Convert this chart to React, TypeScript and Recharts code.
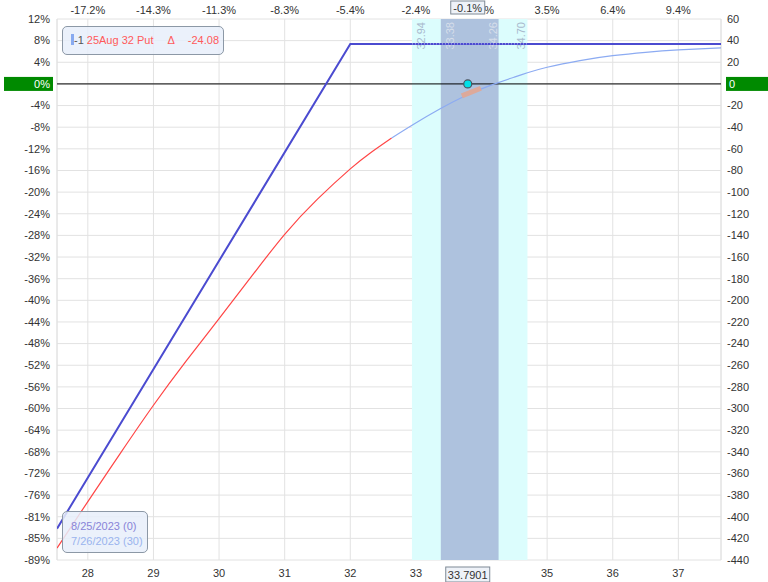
import React from "react";
import {
  ComposedChart,
  Line,
  Scatter,
  XAxis,
  YAxis,
  CartesianGrid,
  ReferenceArea,
  ReferenceLine,
} from "recharts";

// price axis
const X_MIN = 27.53;
const X_MAX = 37.65;
const X_TICKS = [28, 29, 30, 31, 32, 33, 34, 35, 36, 37];
const TOP_LABELS = ["-17.2%", "-14.3%", "-11.3%", "-8.3%", "-5.4%", "-2.4%", "0.5%", "3.5%", "6.4%", "9.4%"];

// P&L axis
const Y_TICKS = [60, 40, 20, 0, -20, -40, -60, -80, -100, -120, -140, -160, -180, -200, -220, -240, -260, -280, -300, -320, -340, -360, -380, -400, -420, -440];
const LEFT_LABELS = ["12%", "8%", "4%", "0%", "-4%", "-8%", "-12%", "-16%", "-20%", "-24%", "-28%", "-32%", "-36%", "-40%", "-44%", "-48%", "-52%", "-56%", "-60%", "-64%", "-68%", "-72%", "-76%", "-81%", "-85%", "-89%"];

// expiration (8/25/2023)
const EXPIRY_PRICE = [27.53, 32, 37.65];
const EXPIRY_PNL = [-411, 37, 37];

// today (7/26/2023), red part
const TODAY_RED_PRICE = [27.53, 28, 28.5, 29, 29.5, 30, 30.5, 31, 31.5, 32, 32.3, 32.63];
const TODAY_RED_PNL = [-429, -386, -341, -297, -256, -217, -177.5, -139, -106.5, -78.5, -64, -50];

// today, light blue part
const TODAY_BLUE_PRICE = [32.63, 32.96, 33.37, 33.79, 34.2, 34.5, 34.7, 35, 35.5, 36, 36.5, 37, 37.65];
const TODAY_BLUE_PNL = [-50, -37.5, -23, -10, 0, 6.3, 10.3, 15.4, 21.6, 26.1, 29.2, 31.4, 33.3];

// delta tangent at current price
const DELTA_PRICE = [33.7, 33.99];
const DELTA_PNL = [-11.1, -4.0];

const CURRENT_PRICE = 33.7901;
const CURRENT_PCT = "-0.1%";
const OUTER_BAND = [32.94, 34.7];
const INNER_BAND = [33.38, 34.26];

const zip = (xs: number[], ys: number[]) => xs.map((x, i) => ({ x, y: ys[i] }));

const FONT = 'Arial, "Liberation Sans", sans-serif';
const FS = 11;

function LeftTick(props: any) {
  const { y, payload } = props;
  const label = LEFT_LABELS[Y_TICKS.indexOf(payload.value)];
  if (payload.value === 0) {
    return (
      <g>
        <rect x={4} y={y - 7} width={49} height={14} fill="#008a00" />
        <text x={50} y={y} dy="0.35em" textAnchor="end" fill="#fff" fontSize={FS} fontFamily={FONT}>
          {label}
        </text>
      </g>
    );
  }
  return (
    <text x={50} y={y} dy="0.35em" textAnchor="end" fill="#333" fontSize={FS} fontFamily={FONT}>
      {label}
    </text>
  );
}

function RightTick(props: any) {
  const { y, payload } = props;
  if (payload.value === 0) {
    return (
      <g>
        <rect x={726} y={y - 7} width={42} height={14} fill="#008a00" />
        <text x={729} y={y} dy="0.35em" fill="#fff" fontSize={FS} fontFamily={FONT}>
          0
        </text>
      </g>
    );
  }
  return (
    <text x={727} y={y} dy="0.35em" fill="#333" fontSize={FS} fontFamily={FONT}>
      {payload.value}
    </text>
  );
}

function BottomTick(props: any) {
  const { x, payload } = props;
  return (
    <text x={x} y={573} dy="0.35em" textAnchor="middle" fill="#333" fontSize={FS} fontFamily={FONT}>
      {payload.value}
    </text>
  );
}

function TopTick(props: any) {
  const { x, payload } = props;
  return (
    <text x={x} y={10} dy="0.35em" textAnchor="middle" fill="#333" fontSize={FS} fontFamily={FONT}>
      {TOP_LABELS[X_TICKS.indexOf(payload.value)]}
    </text>
  );
}

// current price tags, drawn as the tick of an extra axis so they sit on top
function PriceTagTick(props: any) {
  const cx = props.x;
  return (
    <g fontFamily={FONT} fontSize={FS}>
      <rect x={cx - 17} y={1} width={34} height={13} fill="#eef2f8" stroke="#7f8a96" />
      <text x={cx} y={8} dy="0.35em" textAnchor="middle" fill="#333">
        {CURRENT_PCT}
      </text>
      <rect x={cx - 22} y={567} width={44} height={15} fill="#eef2f8" stroke="#7f8a96" />
      <text x={cx} y={575} dy="0.35em" textAnchor="middle" fill="#333">
        {CURRENT_PRICE.toFixed(4)}
      </text>
    </g>
  );
}

// band edge values, written upwards just inside each edge
function BandLabel(props: any) {
  const vb = props.viewBox;
  if (!vb) return null;
  const { band, color } = props;
  const top = vb.y + 3;
  const xs = [vb.x + 9, vb.x + vb.width - 6];
  return (
    <g>
      {xs.map((x, i) => (
        <text
          key={i}
          x={x}
          y={top}
          transform={`rotate(-90 ${x} ${top})`}
          textAnchor="end"
          dominantBaseline="central"
          fill={color}
          fontSize={FS}
          fontFamily={FONT}
        >
          {band[i].toFixed(2)}
        </text>
      ))}
    </g>
  );
}

export default function App() {
  const expiry = zip(EXPIRY_PRICE, EXPIRY_PNL);
  const todayRed = zip(TODAY_RED_PRICE, TODAY_RED_PNL);
  const todayBlue = zip(TODAY_BLUE_PRICE, TODAY_BLUE_PNL);
  const delta = zip(DELTA_PRICE, DELTA_PNL);
  const marker = [{ x: CURRENT_PRICE, y: 0 }];
  const dotted = [
    { x: OUTER_BAND[0], y: EXPIRY_PNL[1] },
    { x: OUTER_BAND[1], y: EXPIRY_PNL[1] },
  ];

  return (
    <div style={{ position: "absolute", left: 0, top: 0, width: 768, height: 582, background: "#fff", fontFamily: FONT }}>
      <ComposedChart width={768} height={582} margin={{ top: 0, right: 0, bottom: 0, left: 0 }}>
        <XAxis
          xAxisId="b"
          type="number"
          dataKey="x"
          domain={[X_MIN, X_MAX]}
          ticks={X_TICKS}
          interval={0}
          allowDataOverflow
          height={21}
          axisLine={false}
          tickLine={false}
          tick={<BottomTick />}
        />
        <XAxis
          xAxisId="t"
          orientation="top"
          type="number"
          dataKey="x"
          domain={[X_MIN, X_MAX]}
          ticks={X_TICKS}
          interval={0}
          allowDataOverflow
          height={19}
          axisLine={false}
          tickLine={false}
          tick={<TopTick />}
        />
        <YAxis
          yAxisId="l"
          type="number"
          domain={[-440, 60]}
          ticks={Y_TICKS}
          interval={0}
          allowDataOverflow
          width={57}
          axisLine={false}
          tickLine={false}
          tick={<LeftTick />}
        />
        <YAxis
          yAxisId="r"
          orientation="right"
          type="number"
          domain={[-440, 60]}
          ticks={Y_TICKS}
          interval={0}
          allowDataOverflow
          width={47}
          axisLine={false}
          tickLine={false}
          tick={<RightTick />}
        />
        <XAxis
          xAxisId="tag"
          type="number"
          dataKey="x"
          domain={[X_MIN, X_MAX]}
          ticks={[CURRENT_PRICE]}
          interval={0}
          allowDataOverflow
          height={1}
          axisLine={false}
          tickLine={false}
          tick={<PriceTagTick />}
        />
        <ReferenceArea
          xAxisId="b"
          yAxisId="l"
          x1={OUTER_BAND[0]}
          x2={OUTER_BAND[1]}
          fill="#dcfdfd"
          fillOpacity={1}
          stroke="none"
          label={<BandLabel band={OUTER_BAND} color="#a9b9cd" />}
        />
        <ReferenceArea
          xAxisId="b"
          yAxisId="l"
          x1={INNER_BAND[0]}
          x2={INNER_BAND[1]}
          fill="#a9bddb"
          fillOpacity={0.92}
          stroke="none"
          label={<BandLabel band={INNER_BAND} color="#d6deea" />}
        />
        <CartesianGrid xAxisId="b" yAxisId="l" stroke="#e2e2e2" strokeWidth={1} />
        <ReferenceLine xAxisId="b" yAxisId="l" x={X_MIN} stroke="#e2e2e2" />
        <ReferenceLine xAxisId="b" yAxisId="l" x={X_MAX} stroke="#e2e2e2" />
        <ReferenceLine xAxisId="b" yAxisId="l" y={0} stroke="#000" strokeWidth={1} />
        <Line
          xAxisId="b"
          yAxisId="l"
          data={expiry}
          dataKey="y"
          stroke="#4b4bd0"
          strokeWidth={2}
          dot={false}
          isAnimationActive={false}
        />
        <Line
          xAxisId="b"
          yAxisId="l"
          data={dotted}
          dataKey="y"
          stroke="#ffffff"
          strokeOpacity={0.7}
          strokeWidth={1}
          strokeDasharray="1 2"
          dot={false}
          isAnimationActive={false}
        />
        <Line
          xAxisId="b"
          yAxisId="l"
          data={todayRed}
          dataKey="y"
          type="natural"
          stroke="#ff4545"
          strokeWidth={1.2}
          dot={false}
          isAnimationActive={false}
        />
        <Line
          xAxisId="b"
          yAxisId="l"
          data={todayBlue}
          dataKey="y"
          type="natural"
          stroke="#8cabf2"
          strokeWidth={1.2}
          dot={false}
          isAnimationActive={false}
        />
        <Line
          xAxisId="b"
          yAxisId="l"
          data={delta}
          dataKey="y"
          stroke="#dda99a"
          strokeWidth={5}
          dot={false}
          isAnimationActive={false}
        />
        <Scatter
          xAxisId="b"
          yAxisId="l"
          data={marker}
          dataKey="y"
          fill="#00e0e8"
          shape={(p: any) => <circle cx={p.cx} cy={p.cy} r={4} fill="#00e0e8" stroke="#4a5560" strokeWidth={1.2} />}
          isAnimationActive={false}
        />
      </ComposedChart>

      <div
        style={{
          position: "absolute",
          left: 62,
          top: 26,
          width: 160,
          height: 27,
          border: "1px solid #8c98a6",
          borderRadius: 5,
          background: "rgba(232,239,250,0.85)",
          fontSize: FS,
          lineHeight: "27px",
          whiteSpace: "nowrap",
        }}
      >
        <span style={{ display: "inline-block", width: 3, height: 11, background: "#88aaf0", marginLeft: 8, verticalAlign: -1 }} />
        <span style={{ color: "#555" }}>-1</span>
        <span style={{ color: "#ff5a5a", marginLeft: 3 }}>25Aug 32 Put</span>
        <span style={{ color: "#ff5a5a", marginLeft: 14 }}>Δ</span>
        <span style={{ color: "#ff5a5a", marginLeft: 13 }}>-24.08</span>
      </div>

      <div
        style={{
          position: "absolute",
          left: 62,
          top: 511,
          width: 86,
          height: 42,
          border: "1px solid #8c98a6",
          borderRadius: 5,
          background: "rgba(232,239,250,0.85)",
          fontSize: FS,
          lineHeight: "14.5px",
          paddingTop: 7,
          boxSizing: "border-box",
          whiteSpace: "nowrap",
        }}
      >
        <div style={{ color: "#8884d8", marginLeft: 8 }}>8/25/2023 (0)</div>
        <div style={{ color: "#9ab4ee", marginLeft: 8 }}>7/26/2023 (30)</div>
      </div>
    </div>
  );
}
